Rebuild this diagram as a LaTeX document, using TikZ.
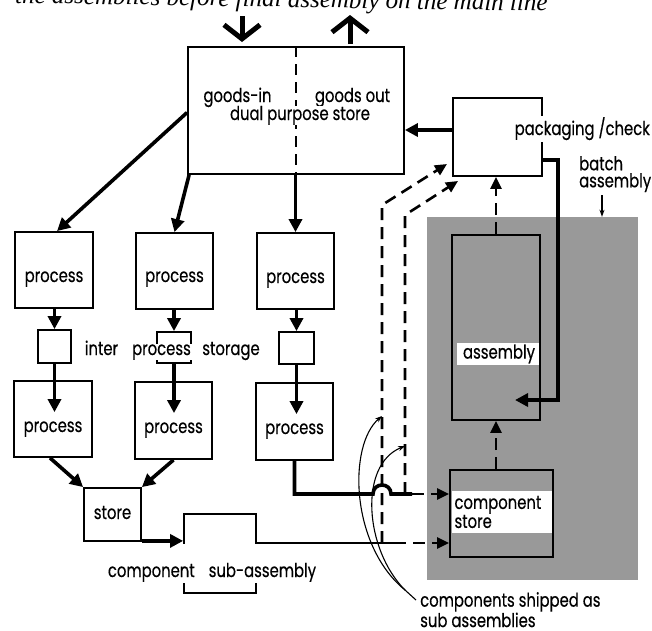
\documentclass[tikz,border=0pt]{standalone}
\usepackage{fontspec}
\setmainfont{Poppins}[FakeStretch=0.78, FakeBold=0.4]
\newfontfamily\capfont{Liberation Serif}
\usetikzlibrary{arrows.meta,calc}

\definecolor{shadegray}{gray}{0.60}

\begin{document}
\begin{tikzpicture}[x=1pt,y=-1pt,
  font=\fontsize{19}{17}\selectfont,
  box/.style={draw, line width=1.8pt, inner sep=0pt, fill=white},
  lbl/.style={anchor=base, inner sep=0pt},
  arr/.style={line width=3.6pt, -{Triangle[length=13pt,width=13pt]}},
  heavy/.style={line width=3.6pt},
  midline/.style={line width=2.6pt},
  dline/.style={line width=2.6pt, dash pattern=on 12pt off 7pt},
  darr/.style={dline, -{Triangle[length=12pt,width=11pt]}},
  divider/.style={line width=1.8pt, dash pattern=on 11pt off 7pt},
  chev/.style={line width=5pt, -{Straight Barb[length=14pt,width=36pt,line width=5pt]}},
  thinl/.style={line width=1.1pt},
  thinarr/.style={line width=1.1pt, -{Stealth[length=7pt,width=5pt]}},
  mask/.style={fill=white, inner sep=0pt},
]
\useasboundingbox (0,0) rectangle (652,630);

% running title line at the top edge
\node[anchor=base west, inner sep=0pt, rotate=-0.86,
      font={\capfont\itshape\fontsize{25}{25}\selectfont}] (title) at (15,3)
  {the assemblies before final assembly on the main line};

% batch-assembly area
\node[fill=shadegray, minimum width=211, minimum height=363, inner sep=0pt] (shade) at (532.5,398.5) {};

% dual purpose store
\node[box, minimum width=216, minimum height=127] (dual) at (296,110.5) {};
\draw[divider] (dual.north) -- (dual.south);
\node[lbl] (gin) at (237.5,102) {goods-in};
\node[lbl] (gout) at (352.5,102) {goods out};
\node[lbl, mask, inner xsep=1pt] (dps) at (300,120) {dual purpose store};

% goods in / goods out
\coordinate (inTop) at (242,16);
\coordinate (inTip) at (242,42);
\coordinate (outBot) at (350,44);
\coordinate (outTip) at (350,15);
\draw[chev] (inTop) -- (inTip);
\draw[chev] (outBot) -- (outTip);

% first process row
\node[box, minimum width=78, minimum height=76] (p1) at (54,270) {};
\node[box, minimum width=77, minimum height=76] (p2) at (174.5,271) {};
\node[box, minimum width=77, minimum height=76] (p3) at (295.5,271) {};
\node[lbl] (p1t) at (54,282) {process};
\node[lbl] (p2t) at (174.5,282) {process};
\node[lbl] (p3t) at (295.5,283) {process};

% inter process storage
\node[box, minimum width=33, minimum height=33] (s1) at (54.5,346.5) {};
\node[box, minimum width=34, minimum height=31] (s2) at (174,347.5) {};
\node[box, minimum width=35, minimum height=32] (s3) at (296.5,348) {};
\node[lbl] (inter) at (101.5,355) {inter};
\node[lbl, mask, inner xsep=1.5pt, inner ysep=0.5pt] (s2t) at (161.5,355) {process};
\node[lbl] (storage) at (231,355) {storage};

% second process row
\node[box, minimum width=78, minimum height=76] (q1) at (53,419) {};
\node[box, minimum width=77, minimum height=77] (q2) at (173.5,420.5) {};
\node[box, minimum width=77, minimum height=77] (q3) at (294.5,421.5) {};
\node[lbl] (q1t) at (53,432) {process};
\node[lbl] (q2t) at (173.5,433) {process};
\node[lbl] (q3t) at (294.5,434) {process};

% store and component sub-assembly
\node[box, minimum width=57, minimum height=53] (st) at (112.5,514.5) {};
\node[lbl] (stt) at (112.5,519) {store};
\node[box, minimum width=72, minimum height=79] (sub) at (220,553.5) {};
\node[lbl, mask, inner xsep=1pt, text height=33pt, text depth=6pt] (subt) at (212,577)
  {component\hspace{14pt}sub-assembly};

% packaging / check
\node[box, minimum width=89, minimum height=78] (pk) at (497.5,137) {};
\node[anchor=base west, mask, inner sep=1.5pt] (pkt) at (513,135) {packaging /check};

% assembly and component store inside the batch area
\node[box, fill=shadegray, minimum width=88, minimum height=185] (asm) at (496,327.5) {};
\node[mask, text width=74pt, align=right, inner xsep=4pt, inner ysep=2pt] (asmt) at (498,354) {assembly};
\node[box, fill=shadegray, minimum width=103, minimum height=87] (cs) at (501.5,513.5) {};
\node[mask, text width=94pt, align=left, inner xsep=3pt, inner ysep=5pt] (cst) at (501.5,512) {component\\store};

% labels
\node[anchor=north west, align=left, inner sep=0pt] (batch) at (579,156) {batch\\assembly};
\node[anchor=north west, align=left, inner sep=0pt] (shipped) at (420,592) {components shipped as\\sub assemblies};

% flow from the dual purpose store to the process lines
\draw[arr] ($(dual.west)+(0,2)$) -- ($(p1.north)+(3,0)$);
\draw[arr] ($(dual.south west)+(2,0)$) -- (p2.north);
\draw[arr] (p3.north |- dual.south) -- (p3.north);

% process -> inter process storage -> process
\draw[arr] (s1.north |- p1.south) -- (s1.north);
\draw[arr] (s2.north |- p2.south) -- (s2.north);
\draw[arr] (s3.north |- p3.south) -- (s3.north);
\draw[arr] (s1.south) -- ($(s1.south |- q1.north)+(0,32)$);
\draw[arr] (s2.south) -- ($(s2.south |- q2.north)+(0,32)$);
\draw[arr] (s3.south) -- ($(s3.south |- q3.north)+(0,32)$);

% process -> store -> sub-assembly
\draw[arr] ($(q1.south)+(-3,0)$) -- (st.north west);
\draw[arr] (q2.south) -- (st.north east);
\coordinate (stOut) at ($(st.south east)+(0,-1)$);
\draw[arr] (stOut) -- (stOut -| sub.west);

% routes towards the component store or straight to packaging
\coordinate (jA) at (382,543);
\coordinate (aEnd) at (394,543);
\coordinate (jB) at (405,494);
\coordinate (bumpL) at (373,494);
\coordinate (bumpR) at (391,494);
\coordinate (bEnd) at (412,494);
\coordinate (aCorner) at (382,205);
\coordinate (aTip) at (447,164);
\coordinate (bCorner) at (405,215);
\coordinate (bTip) at (458,181);

\draw[heavy] (q3.south) -- (q3.south |- jB) -- (bumpL)
  .. controls ($(bumpL)+(0,-12)$) and ($(bumpR)+(0,-12)$) .. (bumpR) -- (bEnd);
\draw[darr] (bEnd) -- (bEnd -| cs.west);
\draw[midline] (sub.east |- jA) -- (aEnd);
\draw[darr] (aEnd) -- (aEnd -| cs.west);
\draw[darr] (jA) -- (aCorner) -- (aTip);
\draw[darr] (jB) -- (bCorner) -- (bTip);

% batch assembly flow
\draw[darr] (asm.south |- cs.north) -- (asm.south);
\draw[darr] (asm.north) -- (asm.north |- pk.south);
\coordinate (pkOut) at ($(pk.west)+(0,-7)$);
\draw[arr] (pkOut) -- (pkOut -| dual.east);
\coordinate (pkR) at ($(pk.east)+(0,23)$);
\coordinate (loopB) at (558,400);
\coordinate (asmIn) at (515,400);
\draw[arr] (pkR) -| (loopB) -- (asmIn);

% label pointers
\coordinate (bt) at (602,195);
\draw[thinarr] (bt) -- (bt |- shade.north);
\coordinate (cl) at (416,600);
\coordinate (cj) at (405,590);
\coordinate (aHit) at (382,416);
\coordinate (bHit) at (405,446);
\draw[thinl] (cl) -- (cj);
\draw[thinarr] (cj) .. controls (350,545) and (348,445) .. (aHit);
\draw[thinarr] (cj) .. controls (365,550) and (358,465) .. (bHit);
\end{tikzpicture}
\end{document}
